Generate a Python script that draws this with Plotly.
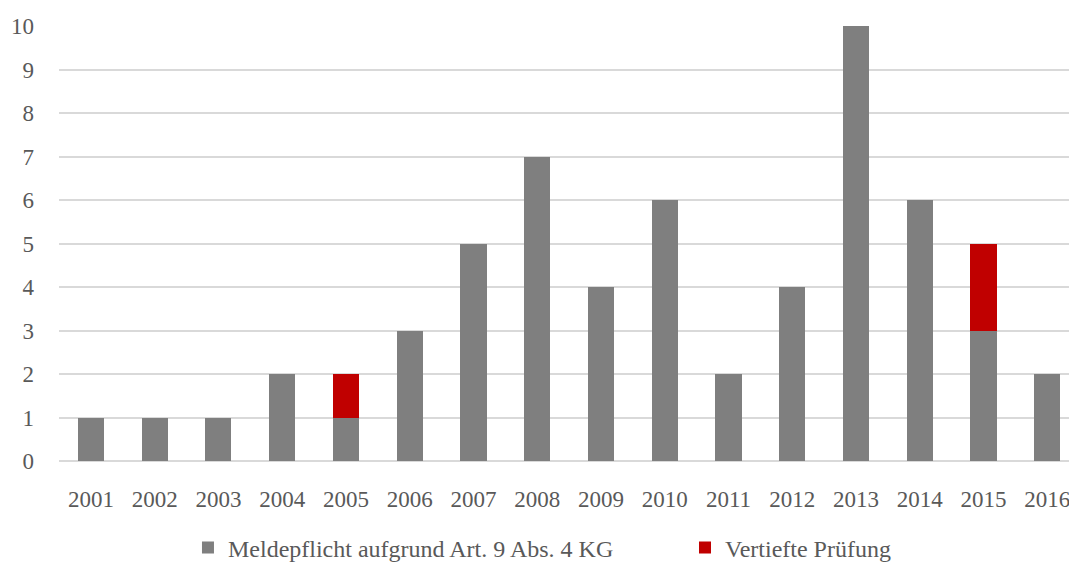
import plotly.graph_objects as go

years = ["2001", "2002", "2003", "2004", "2005", "2006", "2007", "2008",
         "2009", "2010", "2011", "2012", "2013", "2014", "2015", "2016"]
meldepflicht = [1, 1, 1, 2, 1, 3, 5, 7, 4, 6, 2, 4, 10, 6, 3, 2]
vertiefte = [None, None, None, None, 1, None, None, None,
             None, None, None, None, None, None, 2, None]
y_ticks = list(range(0, 11))

FONT = "Liberation Serif"
TEXT_COLOR = "#595959"
FONT_SIZE = 23

fig = go.Figure()
fig.add_trace(go.Bar(
    x=years, y=meldepflicht,
    name="Meldepflicht aufgrund Art. 9 Abs. 4 KG",
    marker=dict(color="#7F7F7F", line=dict(width=0)),
    legend="legend",
))
fig.add_trace(go.Bar(
    x=years, y=vertiefte,
    name="Vertiefte Prüfung",
    marker=dict(color="#C00000", line=dict(width=0)),
    legend="legend2",
))

legend_style = dict(
    orientation="h",
    yref="container", y=0.027, yanchor="middle",
    xanchor="left",
    font=dict(family=FONT, size=24, color=TEXT_COLOR),
    bgcolor="rgba(0,0,0,0)",
    itemclick=False,
)

fig.update_layout(
    barmode="stack",
    bargap=0.59,
    width=1069, height=563,
    margin=dict(l=59, r=0, t=26, b=102, pad=0, autoexpand=False),
    paper_bgcolor="white",
    plot_bgcolor="white",
    font=dict(family=FONT, size=FONT_SIZE, color=TEXT_COLOR),
    showlegend=True,
    legend=dict(x=0.1277, **legend_style),
    legend2=dict(x=0.6198, **legend_style),
)

fig.update_xaxes(
    type="category",
    range=[-0.5, 15.34],
    showgrid=False,
    showline=False,
    ticks="",
    ticklabelstandoff=22,
    automargin=False,
    fixedrange=True,
)
fig.update_yaxes(
    range=[0, 10],
    tickvals=y_ticks,
    showgrid=True,
    gridcolor="#D9D9D9",
    gridwidth=1.5,
    zeroline=True,
    zerolinecolor="#D9D9D9",
    zerolinewidth=1.5,
    showline=False,
    ticks="",
    ticklabelstandoff=24,
    automargin=False,
    fixedrange=True,
)

fig.write_html("out.html", config={"displayModeBar": False})
